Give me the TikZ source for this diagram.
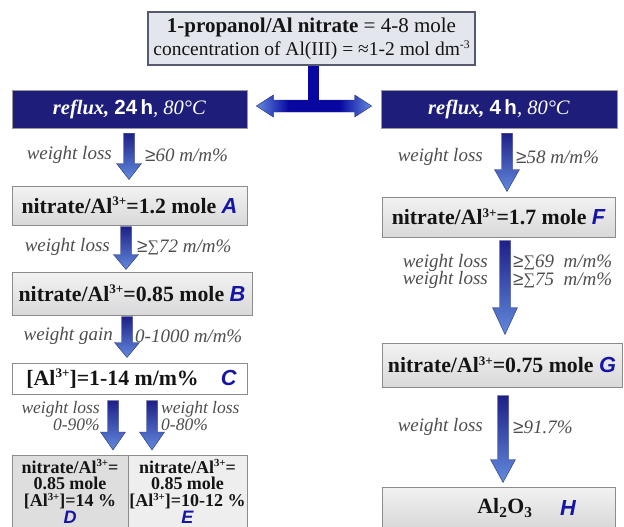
\documentclass[tikz,border=0pt]{standalone}
\usepackage{fontspec}
\setmainfont{Liberation Serif}
\setsansfont{Liberation Sans}
\usetikzlibrary{calc}
\definecolor{reflnavy}{RGB}{30,30,122}
\definecolor{tbar}{RGB}{8,8,160}
\definecolor{arrtop}{RGB}{30,32,135}
\definecolor{arrbot}{RGB}{98,138,222}
\definecolor{arrdraw}{RGB}{40,50,115}
\definecolor{lblgray}{RGB}{78,78,78}
\definecolor{letblue}{RGB}{22,22,165}
\definecolor{boxgray}{RGB}{140,140,140}
\definecolor{topfill}{RGB}{228,230,238}
\definecolor{topdraw}{RGB}{85,90,112}
\definecolor{dfill}{RGB}{222,222,222}
\definecolor{efill}{RGB}{238,238,238}
\pgfdeclarehorizontalshading{dblarr}{100bp}{color(0bp)=(arrbot); color(25bp)=(arrbot); color(39bp)=(tbar); color(61bp)=(tbar); color(75bp)=(arrbot); color(100bp)=(arrbot)}
\newcommand\letter[1]{{\sffamily\bfseries\itshape\color{letblue}#1}}
\newcommand\gesym{{\sffamily\upshape ≥}}
\newcommand\sumsym{\raisebox{0.06em}{\scalebox{0.85}{\upshape ∑}}}
\newcommand\supx[1]{\raisebox{0.34em}{\scalebox{0.6}{#1}}}
% #1 x, #2 from node, #3 to node, #4 top gap, #5 bottom gap, #6 head length
\newcommand\garrow[6]{%
  \shade[varr] let \p1=(#2.south), \p2=(#3.north) in
   ({#1pt-5.5pt},{\y1-#4pt}) -- ({#1pt+5.5pt},{\y1-#4pt})
   -- ({#1pt+5.5pt},{\y2+#5pt+#6pt}) -- ({#1pt+12.5pt},{\y2+#5pt+#6pt})
   -- ({#1pt},{\y2+#5pt}) -- ({#1pt-12.5pt},{\y2+#5pt+#6pt})
   -- ({#1pt-5.5pt},{\y2+#5pt+#6pt}) -- cycle;}
\begin{document}
\begin{tikzpicture}[x=1pt,y=-1pt,
  varr/.style={top color=arrtop, bottom color=arrbot, draw=arrdraw, line width=0.4pt},
  topbox/.style={draw=topdraw, line width=1.6pt, fill=topfill, inner sep=0pt, align=center,
     font=\fontsize{21}{23}\selectfont, text=black!92},
  refl/.style={draw=black!40, line width=0.6pt, fill=reflnavy, inner sep=0pt, text=white,
     font=\fontsize{20.5}{22}\selectfont},
  box/.style={draw=boxgray, line width=1pt, top color=black!5, bottom color=black!15,
     inner sep=0pt, font=\fontsize{21.8}{24}\selectfont\bfseries, text=black!92},
  wbox/.style={box, top color=white, bottom color=white},
  small/.style={draw=boxgray, line width=1pt, inner sep=0pt, align=center,
     font=\fontsize{18}{16.7}\selectfont\bfseries, text=black!92},
  lbl/.style={inner sep=0pt, text=lblgray, font=\fontsize{19}{17.5}\selectfont\itshape},
  slbl/.style={inner sep=0pt, text=lblgray, font=\fontsize{17.5}{16.5}\selectfont\itshape}]
\useasboundingbox (0,0) rectangle (624,527);
\fill[white] (0,0) rectangle (624,527);

% top box
\node[topbox, minimum width=327pt, minimum height=53pt] (top) at (311.5,38.5)
  {{\bfseries 1-propanol/Al nitrate} = 4-8 mole\\
   {\fontsize{19.5}{23}\selectfont concentration of Al(III) = ≈1-2 mol dm\supx{-3}}};

% reflux boxes
\node[refl, minimum width=235pt, minimum height=38pt] (reflL) at (129.5,109)
  {\textbf{\textit{reflux,}} {\sffamily\bfseries 24\,h}\textit{, 80°C}};
\node[refl, minimum width=236pt, minimum height=38pt] (reflR) at (499,109)
  {\textbf{\textit{reflux,}} {\sffamily\bfseries 4\,h}\textit{, 80°C}};

% T connector
\coordinate (dl) at ($(reflL.east)+(9,-3)$);
\coordinate (dr) at ($(reflR.west)+(-9,-3)$);
\shade[shading=dblarr, draw=arrdraw, line width=0.4pt]
  let \p1=(dl), \p2=(dr) in
  (\x1,\y1) -- ({\x1+17pt},{\y1+11pt}) -- ({\x1+17pt},{\y1+6pt})
  -- ({\x2-17pt},{\y2+6pt}) -- ({\x2-17pt},{\y2+11pt}) -- (\x2,\y2)
  -- ({\x2-17pt},{\y2-11pt}) -- ({\x2-17pt},{\y2-6pt})
  -- ({\x1+17pt},{\y1-6pt}) -- ({\x1+17pt},{\y1-11pt}) -- cycle;
\fill[tbar] let \p1=($(top.south)+(2,0)$), \p2=(dl) in
  ({\x1-5.5pt},\y1) rectangle ({\x1+5.5pt},{\y2+5pt});

% left column boxes
\node[box, minimum width=235pt, minimum height=39pt] (A) at (129.5,205.5)
  {nitrate/Al\supx{3+}=1.2 mole \letter{A}};
\node[box, minimum width=240pt, minimum height=43pt] (B) at (132,293.5)
  {nitrate/Al\supx{3+}=0.85 mole \letter{B}};
\node[wbox, minimum width=235pt, minimum height=31pt] (C) at (129.5,378.5)
  {\hspace{4pt}[Al\supx{3+}]=1-14 m/m\%\hspace{22pt}\letter{C}};
\node[small, fill=dfill, minimum width=116pt, minimum height=72pt] (D) at (70,491.5)
  {nitrate/Al\supx{3+}=\\0.85 mole\\{[}Al\supx{3+}{]}=14 \%\\\letter{D}};
\node[small, fill=efill, minimum width=119pt, minimum height=72pt] (E) at (187.5,491.5)
  {nitrate/Al\supx{3+}=\\0.85 mole\\{[}Al\supx{3+}{]}=10-12 \%\\\letter{E}};

% right column boxes
\node[box, minimum width=233pt, minimum height=40pt] (F) at (498.5,217)
  {nitrate/Al\supx{3+}=1.7 mole \letter{F}};
\node[box, minimum width=240pt, minimum height=44pt] (G) at (502,365)
  {nitrate/Al\supx{3+}=0.75 mole \letter{G}};
\node[box, minimum width=233pt, minimum height=40pt] (H) at (498.5,507) {};
\node[inner sep=0pt, font=\fontsize{21.8}{24}\selectfont\bfseries, text=black!92] (Htxt) at (505,508)
  {Al\textsubscript{2}O\textsubscript{3}};
\node[inner sep=0pt, font=\fontsize{21.8}{24}\selectfont] (Hlet) at (568,508) {\letter{H}};

% arrows
\garrow{129}{reflL}{A}{5}{6}{16}
\garrow{126}{A}{B}{1}{2}{15}
\garrow{127}{B}{C}{1}{5}{15}
\garrow{113}{C}{D}{6}{5}{18}
\garrow{152}{C}{E}{6}{5}{18}
\garrow{507}{reflR}{F}{5}{5}{22}
\garrow{505}{F}{G}{3}{8}{27}
\garrow{503}{G}{H}{8}{4}{23}

% labels
\node[lbl, anchor=east] (l1a) at (112,155) {weight loss};
\node[lbl, anchor=west] (l1b) at (145,155) {\gesym60 m/m\%};
\node[lbl, anchor=east] (l2a) at (110,247) {weight loss};
\node[lbl, anchor=west] (l2b) at (137,247) {\gesym\sumsym72 m/m\%};
\node[lbl, anchor=east] (l3a) at (113,336) {weight gain};
\node[lbl, anchor=west] (l3b) at (135,336) {0-1000 m/m\%};
\node[slbl, anchor=east, align=right] (lDa) at (100,416) {weight loss\\0-90\%};
\node[slbl, anchor=west, align=left] (lEa) at (161,416) {weight loss\\0-80\%};
\node[lbl, anchor=east] (lFa) at (483,157) {weight loss};
\node[lbl, anchor=west] (lFb) at (516,157) {\gesym58 m/m\%};
\node[lbl, anchor=east, align=right] (lGa) at (488,271.5) {weight loss\\weight loss};
\node[lbl, anchor=west, align=left] (lGb) at (513,271.5)
  {\gesym\sumsym69\ \ m/m\%\\\gesym\sumsym75\ \ m/m\%};
\node[lbl, anchor=east] (lHa) at (483,427) {weight loss};
\node[lbl, anchor=west] (lHb) at (513,427) {\gesym91.7\%};
\end{tikzpicture}
\end{document}
